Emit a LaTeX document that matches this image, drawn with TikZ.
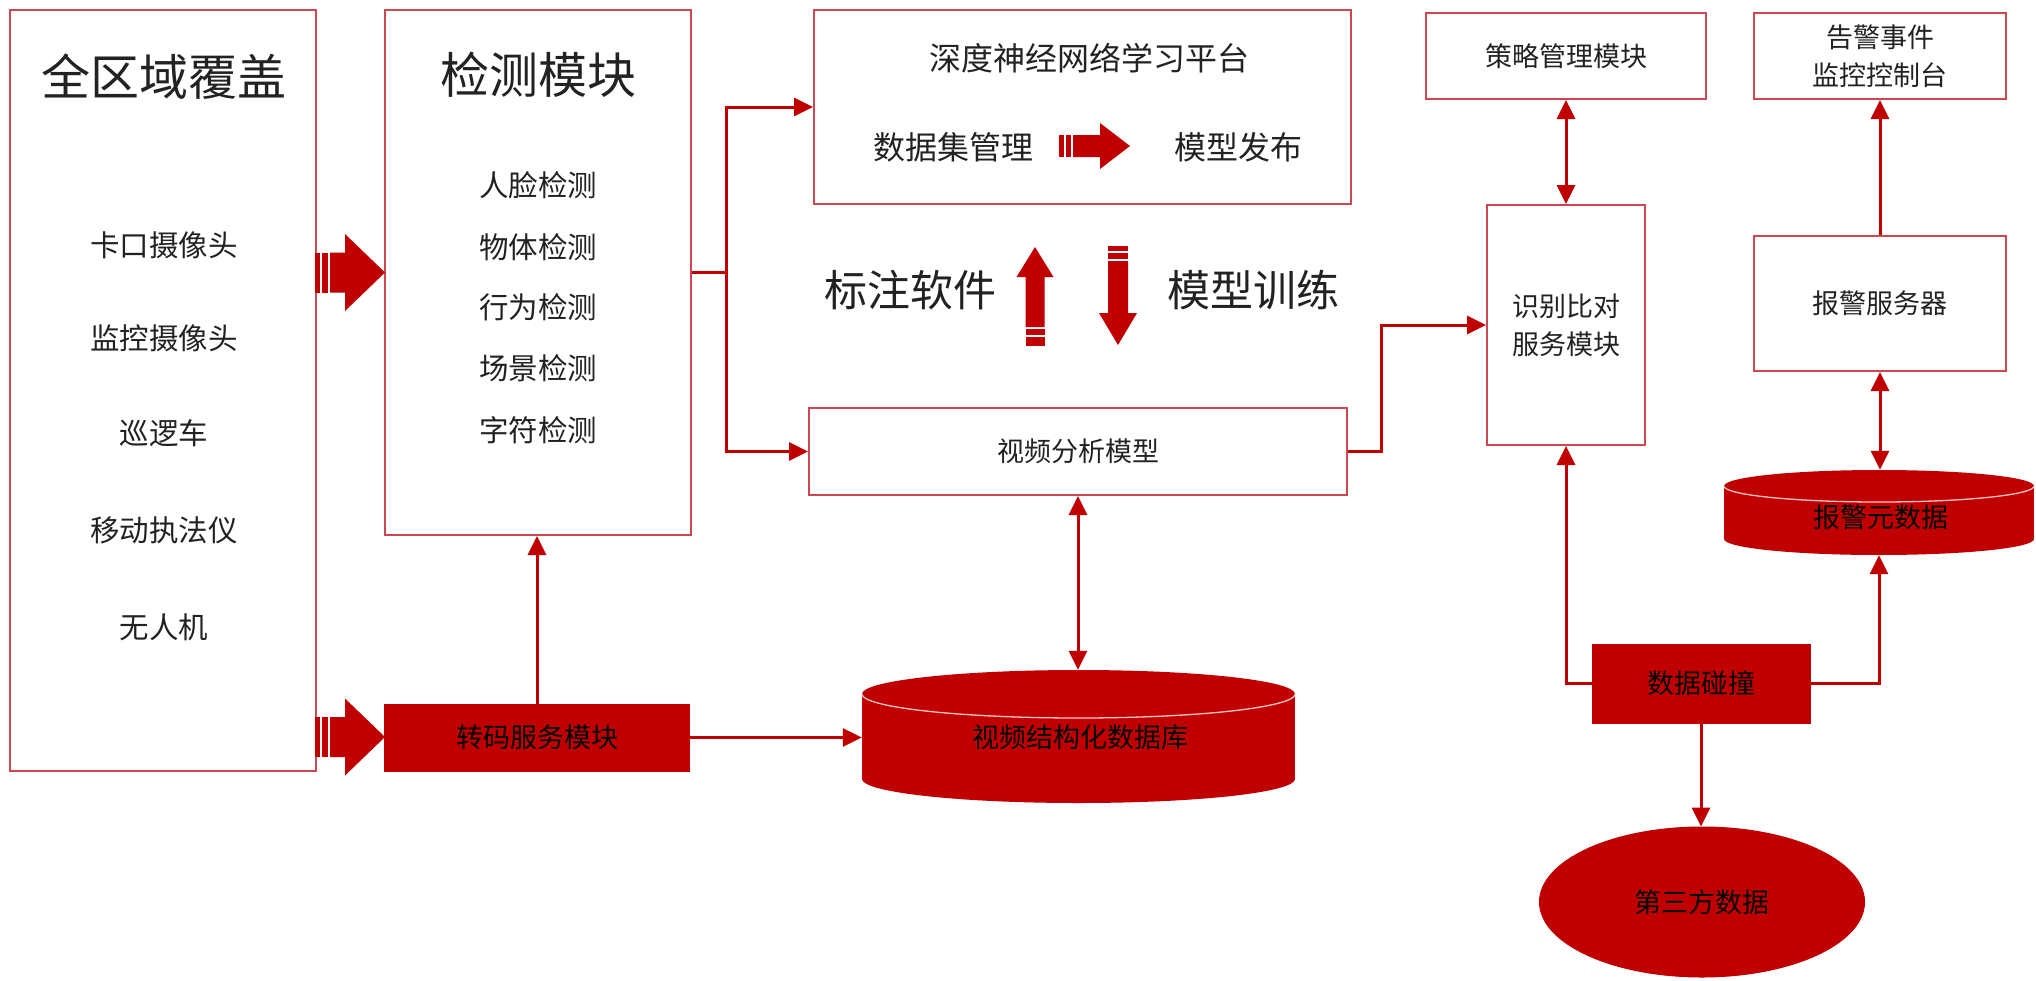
\documentclass[tikz,border=0pt]{standalone}
\usepackage{fontspec}
\setmainfont{Noto Sans CJK SC}
\usetikzlibrary{arrows.meta,shapes.geometric}
\definecolor{mred}{RGB}{192,0,0}
\definecolor{bred}{RGB}{205,70,80}
\definecolor{txtc}{RGB}{34,34,34}
\definecolor{rimc}{RGB}{255,195,195}
\begin{document}
\begin{tikzpicture}[x=1pt,y=-1pt,
  box/.style={draw=bred, line width=2pt, fill=white, inner sep=0pt, text=txtc, align=center, font=\fontsize{27pt}{38pt}\selectfont},
  rbox/.style={fill=mred, draw=mred, line width=1pt, inner sep=0pt, text=black, align=center, font=\fontsize{27pt}{38pt}\selectfont},
  lbl/.style={inner sep=0pt, text=txtc, font=\fontsize{#1}{#1}\selectfont},
  anchorbox/.style={inner sep=0pt, draw=none},
  conn/.style={draw=mred, line width=3pt, -{Triangle[length=19pt,width=18pt]}},
  dconn/.style={draw=mred, line width=3pt, {Triangle[length=19pt,width=18pt]}-{Triangle[length=19pt,width=18pt]}},
  plainline/.style={draw=mred, line width=3pt},
  blk/.style={fill=mred},
  rimline/.style={draw=rimc, line width=1.3pt}
]
\useasboundingbox (0,0) rectangle (2036,980);
\fill[white] (0,0) rectangle (2036,980);

% ---------- boxes ----------
\node[box, minimum width=306pt, minimum height=761pt] (A) at (163,390.5) {};
\node[lbl=49pt] (A0) at (164,77) {全区域覆盖};
\node[lbl=29.5pt] (A1) at (164,245) {卡口摄像头};
\node[lbl=29.5pt] (A2) at (164,338) {监控摄像头};
\node[lbl=29.5pt] (A3) at (164,433) {巡逻车};
\node[lbl=29.5pt] (A4) at (164,530) {移动执法仪};
\node[lbl=29.5pt] (A5) at (164,627) {无人机};

\node[box, minimum width=306pt, minimum height=525pt] (B) at (538,272.5) {};
\node[lbl=49pt] (B0) at (538,75) {检测模块};
\node[lbl=29.5pt] (B1) at (538,185) {人脸检测};
\node[lbl=29.5pt] (B2) at (538,247) {物体检测};
\node[lbl=29.5pt] (B3) at (538,307) {行为检测};
\node[lbl=29.5pt] (B4) at (538,368) {场景检测};
\node[lbl=29.5pt] (B5) at (538,430) {字符检测};

\node[box, minimum width=537pt, minimum height=194pt] (C) at (1082.5,107) {};
\node[lbl=32pt] (C0) at (1089,58) {深度神经网络学习平台};
\node[lbl=32pt] (C1) at (953,147) {数据集管理};
\node[lbl=32pt] (C2) at (1238,147) {模型发布};

\node[lbl=43pt] (T1) at (910,290) {标注软件};
\node[lbl=43pt] (T2) at (1253,290) {模型训练};

\node[box, minimum width=280pt, minimum height=86pt] (D) at (1566,56) {策略管理模块};
\node[box, minimum width=252pt, minimum height=86pt] (E) at (1880,56) {告警事件\\监控控制台};
\node[box, minimum width=158pt, minimum height=240pt] (F) at (1566,325) {识别比对\\服务模块};
\node[box, minimum width=252pt, minimum height=135pt] (G) at (1880,303.5) {报警服务器};
\node[box, minimum width=538pt, minimum height=87pt] (H) at (1078,451.5) {视频分析模型};

\node[rbox, minimum width=305pt, minimum height=67pt] (M) at (537,737.5) {转码服务模块};
\node[rbox, minimum width=218pt, minimum height=79pt] (K) at (1701,683.5) {数据碰撞};
\node[rbox, ellipse, minimum width=325pt, minimum height=150pt] (L) at (1702,902) {第三方数据};

% ---------- cylinders ----------
\node[anchorbox, minimum width=433pt, minimum height=133pt] (I) at (1078.5,736.5) {};
\fill[mred] (862,694) rectangle (1295,779);
\fill[mred] (1078.5,779) ellipse [x radius=216.5, y radius=24];
\fill[mred] (1078.5,694) ellipse [x radius=216.5, y radius=24];
\draw[rimline] plot[domain=0:180, samples=80] ({1078.5+216.5*cos(\x)},{694+24*sin(\x)});
\node[lbl=27pt, text=black] (I0) at (1080,737) {视频结构化数据库};

\node[anchorbox, minimum width=310pt, minimum height=85pt] (J) at (1879,512.5) {};
\fill[mred] (1724,486) rectangle (2034,539);
\fill[mred] (1879,539) ellipse [x radius=155, y radius=16];
\fill[mred] (1879,486) ellipse [x radius=155, y radius=16];
\draw[rimline] plot[domain=0:180, samples=80] ({1879+155*cos(\x)},{486+16*sin(\x)});
\node[lbl=27pt, text=black] (J0) at (1881,517) {报警元数据};

% ---------- connectors ----------
\coordinate (br) at (726,272.5);
\draw[plainline] (B.east) -- (br);
\draw[conn] (br) |- (C.west);
\draw[conn] (br) |- (H.west);
\draw[conn] (M.north) -- (M.north |- B.south);
\draw[conn] (M.east) -- (M.east -| I.west);
\draw[dconn] (H.south) -- (H.south |- I.north);
\coordinate (hr) at (1381,451.5);
\draw[conn] (H.east) -- (hr) |- (F.west);
\draw[dconn] (D.south) -- (F.north);
\draw[conn] (K.west) -| (F.south);
\draw[conn] (K.east) -| (J.south);
\draw[dconn] (G.south) -- (G.south |- J.north);
\draw[conn] (G.north) -- (E.south);
\draw[conn] (K.south) -- (K.south |- L.north);

% ---------- block arrows ----------
\foreach \yc in {272.5,737} {
  \fill[blk] (315,\yc-20) rectangle (320,\yc+20);
  \fill[blk] (322,\yc-20) rectangle (328,\yc+20);
  \fill[blk] (330,\yc-20) -- (345,\yc-20) -- (345,\yc-38.5) -- (385,\yc) -- (345,\yc+38.5) -- (345,\yc+20) -- (330,\yc+20) -- cycle;
}
% up arrow (标注软件)
\fill[blk] (1035,247) -- (1053.5,277) -- (1044.5,277) -- (1044.5,327) -- (1025.5,327) -- (1025.5,277) -- (1016.5,277) -- cycle;
\fill[blk] (1025.5,329) rectangle (1044.5,335);
\fill[blk] (1025.5,337) rectangle (1044.5,346);
% down arrow (模型训练)
\fill[blk] (1108,246) rectangle (1128,251);
\fill[blk] (1108,253) rectangle (1128,259);
\fill[blk] (1108,261) -- (1128,261) -- (1128,313) -- (1137,313) -- (1118,345) -- (1099,313) -- (1108,313) -- cycle;
% small arrow in platform box
\fill[blk] (1059,135) rectangle (1064,157);
\fill[blk] (1066,135) rectangle (1071,157);
\fill[blk] (1073,135) -- (1100,135) -- (1100,123) -- (1130,146) -- (1100,169) -- (1100,157) -- (1073,157) -- cycle;
\end{tikzpicture}
\end{document}
